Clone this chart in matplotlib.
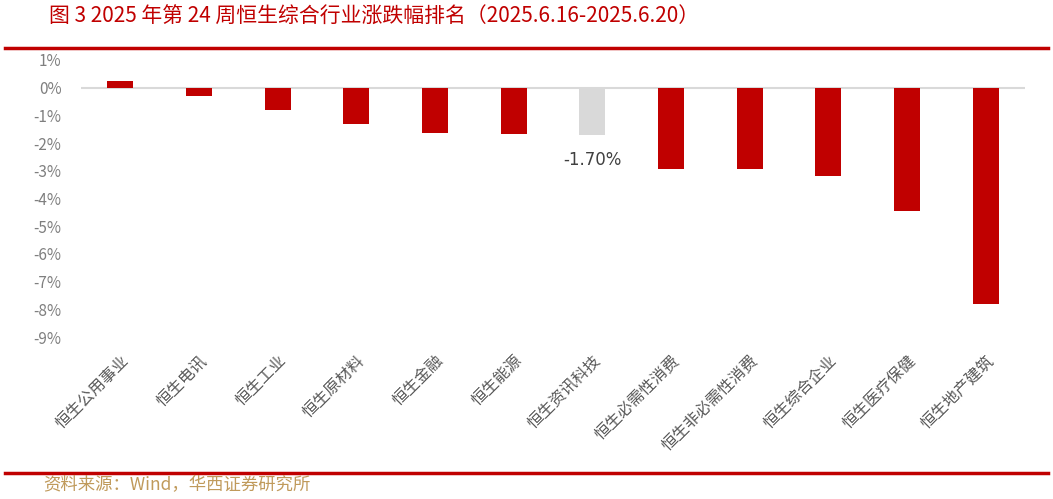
# -*- coding: utf-8 -*-
# *** File purpose ***#
"""
Aim: weekly ranking of Hang Seng composite industry indices (2025.6.16-2025.6.20)
"""
# *** Importing Packages ***#
import matplotlib
matplotlib.use("Agg")
import matplotlib.pyplot as plt
from matplotlib.lines import Line2D
from matplotlib.ticker import FuncFormatter

# *** Define parameters ***#
industries = ["恒生公用事业", "恒生电讯", "恒生工业", "恒生原材料", "恒生金融", "恒生能源",
              "恒生资讯科技", "恒生必需性消费", "恒生非必需性消费", "恒生综合企业",
              "恒生医疗保健", "恒生地产建筑"]
weekly_change = [0.24, -0.31, -0.80, -1.30, -1.65, -1.66, -1.70, -2.92, -2.93, -3.20, -4.44, -7.80]
highlight_name = "恒生资讯科技"
y_ticks = [1, 0, -1, -2, -3, -4, -5, -6, -7, -8, -9]

title_text = "图 3 2025 年第 24 周恒生综合行业涨跌幅排名（2025.6.16-2025.6.20）"
source_text = "资料来源：Wind，华西证券研究所"

red = "#C00000"
grey_bar = "#D9D9D9"

plt.rcParams["font.family"] = ["Noto Sans CJK SC", "DejaVu Sans"]

# *** Plot ***#
fig = plt.figure(figsize=(10.53, 4.99), dpi=100)
ax = fig.add_axes([0.0769, 0.3246, 0.8965, 0.5552])

colors = [grey_bar if name == highlight_name else red for name in industries]
x = range(len(industries))
ax.bar(x, weekly_change, width=0.33, color=colors, zorder=3)
ax.axhline(0, color="#D9D9D9", linewidth=1.5, zorder=2)

ax.set_xlim(-0.5, len(industries) - 0.5)
ax.set_ylim(-9, 1)
ax.set_yticks(y_ticks)
ax.yaxis.set_major_formatter(FuncFormatter(lambda v, pos: f"{v:.0f}%"))
ax.tick_params(axis="y", length=0, labelsize=11, labelcolor="#7F7F7F", pad=14)
ax.tick_params(axis="x", length=0, pad=11)
ax.set_xticks(list(x))
ax.set_xticklabels(industries, rotation=45, ha="right", va="top", rotation_mode="anchor",
                   fontsize=11.5, color="#595959", fontweight="light")
for side in ["top", "right", "left", "bottom"]:
    ax.spines[side].set_visible(False)

# data label for the highlighted bar
idx = industries.index(highlight_name)
ax.annotate(f"{weekly_change[idx]:.2f}%", (idx, weekly_change[idx]), xytext=(0, -18),
            textcoords="offset points", ha="center", va="center", fontsize=12, color="#404040",
            family=["DejaVu Sans"])

# title, separators and source
fig.text(0.047, 0.967, title_text, color=red, fontsize=15, ha="left", va="center")
fig.add_artist(Line2D([0.005, 0.995], [0.904, 0.904], color=red, linewidth=2.5, transform=fig.transFigure))
fig.add_artist(Line2D([0.005, 0.995], [0.053, 0.053], color=red, linewidth=2.5, transform=fig.transFigure))
fig.text(0.041, 0.028, source_text, color="#C09A5B", fontsize=12.5, ha="left", va="center")

# *** Save Data *** #
fig.savefig("out.png", dpi=100)
